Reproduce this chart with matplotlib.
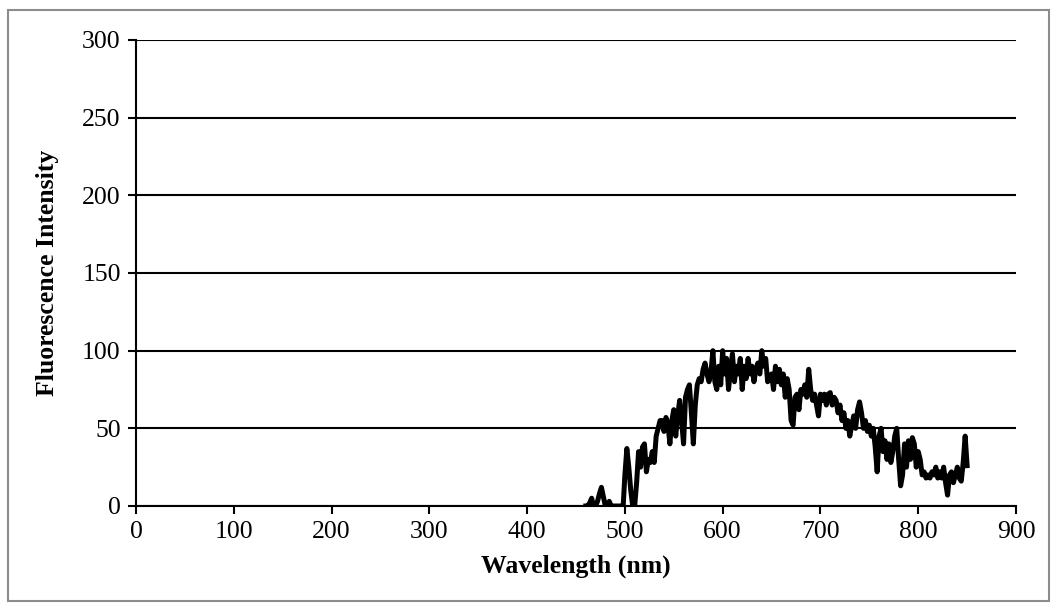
import matplotlib
matplotlib.use("Agg")
import matplotlib.pyplot as plt
from matplotlib.patches import Rectangle
import numpy as np

# Emission spectrum, sampled every 2 nm
wavelength = np.arange(460, 851, 2)
intensity = [
    0, 0, 2, 5, 0, 0, 3, 8, 12, 6,
    0, 0, 3, 0, 0, 0, 0, 0, 0, -3,
    20, 37, 25, 10, 0, 0, 15, 35, 25, 38,
    40, 22, 30, 28, 35, 28, 45, 50, 55, 55,
    48, 57, 53, 40, 55, 62, 45, 58, 68, 55,
    40, 70, 75, 78, 60, 40, 65, 78, 82, 80,
    88, 92, 85, 80, 86, 100, 80, 75, 90, 78,
    100, 85, 95, 75, 88, 98, 80, 90, 85, 95,
    75, 90, 82, 95, 85, 90, 80, 88, 92, 85,
    100, 90, 95, 80, 82, 85, 75, 90, 80, 88,
    78, 85, 70, 82, 75, 55, 52, 70, 72, 62,
    75, 72, 78, 70, 88, 75, 68, 72, 65, 58,
    72, 68, 72, 65, 72, 73, 65, 70, 68, 60,
    65, 55, 60, 50, 55, 45, 52, 58, 50, 62,
    67, 60, 50, 55, 48, 52, 45, 50, 38, 22,
    45, 50, 35, 42, 30, 40, 28, 35, 45, 50,
    30, 13, 20, 40, 25, 42, 30, 44, 40, 25,
    35, 30, 20, 22, 18, 20, 18, 22, 20, 25,
    18, 22, 18, 25, 15, 7, 20, 22, 15, 20,
    25, 18, 16, 28, 45, 26,
]

x_ticks = list(range(0, 901, 100))
y_ticks = list(range(0, 301, 50))

plt.rcParams["font.family"] = ["Liberation Serif", "DejaVu Serif"]

fig = plt.figure(figsize=(10.57, 6.09), dpi=100)
fig.patches.append(Rectangle((8 / 1057, 1 - 601 / 609), 1041 / 1057, 591 / 609,
                             transform=fig.transFigure, fill=False,
                             edgecolor="#8c8c8c", linewidth=1.5))

ax = fig.add_axes([136 / 1057, 1 - 506 / 609, 880 / 1057, 466 / 609])
ax.plot(wavelength, intensity, color="black", linewidth=3.6,
        solid_joinstyle="round", zorder=3)

ax.set_xlim(0, 900)
ax.set_ylim(0, 300)
ax.set_xticks(x_ticks)
ax.set_yticks(y_ticks)
ax.yaxis.grid(True, color="black", linewidth=1.5)
ax.set_axisbelow(True)

for side in ("top", "right"):
    ax.spines[side].set_visible(False)
for side in ("left", "bottom"):
    ax.spines[side].set_linewidth(1.5)
    ax.spines[side].set_zorder(4)

ax.tick_params(axis="both", direction="out", length=6, width=1.5,
               labelsize=18.5, colors="black", pad=5)

ax.set_xlabel("Wavelength (nm)", fontsize=18.5, fontweight="bold", va="center")
ax.set_ylabel("Fluorescence Intensity", fontsize=18.5, fontweight="bold", va="center")
ax.xaxis.set_label_coords(0.5, -0.129)
ax.yaxis.set_label_coords(-0.1, 0.5)

fig.savefig("out.png", dpi=100)
